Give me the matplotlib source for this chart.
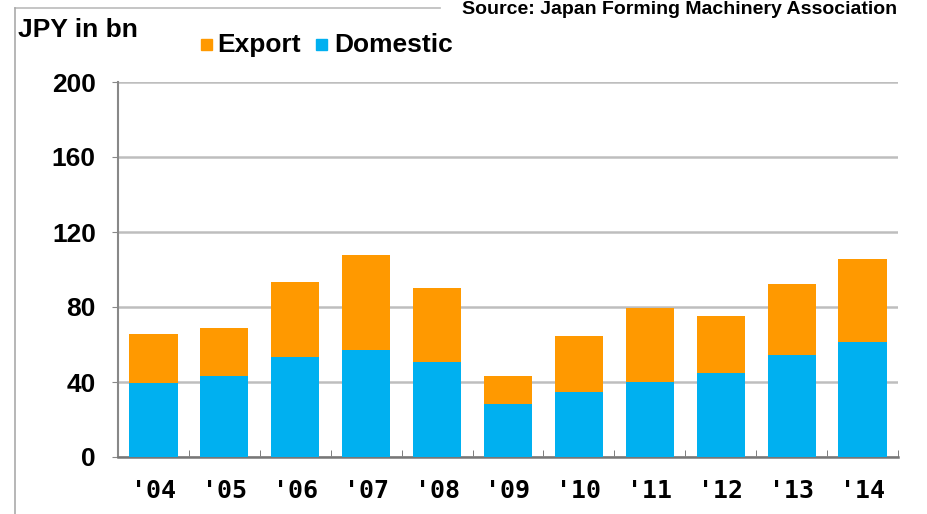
import matplotlib
matplotlib.use("Agg")
import matplotlib.pyplot as plt
from matplotlib.lines import Line2D
from matplotlib.patches import Rectangle

years = ["'04", "'05", "'06", "'07", "'08", "'09", "'10", "'11", "'12", "'13", "'14"]
domestic = [39.5, 43.2, 53.5, 57.0, 50.8, 28.5, 34.5, 39.8, 44.6, 54.4, 61.2]
export_total = [65.4, 69.0, 93.3, 107.7, 90.3, 43.4, 64.7, 79.6, 75.0, 92.1, 105.4]
export = [t - d for t, d in zip(export_total, domestic)]
yticks = [0, 40, 80, 120, 160, 200]

ORANGE = "#FF9900"
BLUE = "#00B0F0"

plt.rcParams['font.family'] = ['Liberation Sans', 'DejaVu Sans']
plt.rcParams['font.weight'] = 'bold'

fig = plt.figure(figsize=(9.28, 5.14), dpi=100)
W, H = 928, 514
ax = fig.add_axes([118 / W, 1 - 457 / H, (898 - 118) / W, (457 - 82) / H])

x = list(range(len(years)))
ax.bar(x, domestic, width=0.68, color=BLUE, zorder=3)
ax.bar(x, export, width=0.68, bottom=domestic, color=ORANGE, zorder=3)

ax.set_xlim(-0.5, len(years) - 0.5)
ax.set_ylim(0, 200)
ax.set_yticks(yticks)
ax.set_yticklabels([str(v) for v in yticks], fontsize=19, fontweight='bold')
ax.yaxis.grid(True, color='#BEBEBE', linewidth=1.8, zorder=0)
ax.set_xticks(x)
ax.set_xticklabels(years, fontsize=18, fontweight='bold', family=['DejaVu Sans Mono', 'DejaVu Sans'])
ax.tick_params(axis='x', length=0, pad=16)
ax.tick_params(axis='y', length=4, color='#888888', pad=12)
# minor ticks at category boundaries
ax.set_xticks([i + 0.5 for i in range(len(years))], minor=True)
ax.tick_params(axis='x', which='minor', length=5, direction='in', color='#666666')

for s in ['top', 'right']:
    ax.spines[s].set_visible(False)
ax.spines['left'].set_color('#888888')
ax.spines['left'].set_linewidth(1.5)
ax.spines['bottom'].set_color('#777777')
ax.spines['bottom'].set_linewidth(1.8)

# outer frame lines
fig.add_artist(Line2D([15 / W, 440 / W], [1 - 8 / H, 1 - 8 / H], color='#BBBBBB', lw=1.2))
fig.add_artist(Line2D([15 / W, 15 / W], [1 - 8 / H, 0], color='#AAAAAA', lw=1.2))

# texts
fig.text(18 / W, 1 - 30 / H, "JPY in bn", fontsize=19, fontweight='bold', va='center', ha='left')
fig.add_artist(Rectangle((201 / W, 1 - 50 / H), 11 / W, 11 / H, color=ORANGE))
fig.text(217 / W, 1 - 45 / H, "Export", fontsize=19, fontweight='bold', va='center', ha='left')
fig.add_artist(Rectangle((316 / W, 1 - 50 / H), 11 / W, 11 / H, color=BLUE))
fig.text(334 / W, 1 - 45 / H, "Domestic", fontsize=19, fontweight='bold', va='center', ha='left')
fig.text(462 / W, 1 - 1 / H, "Source: Japan Forming Machinery Association", fontsize=14,
         fontweight='bold', va='top', ha='left')

fig.savefig("out.png", dpi=100)
